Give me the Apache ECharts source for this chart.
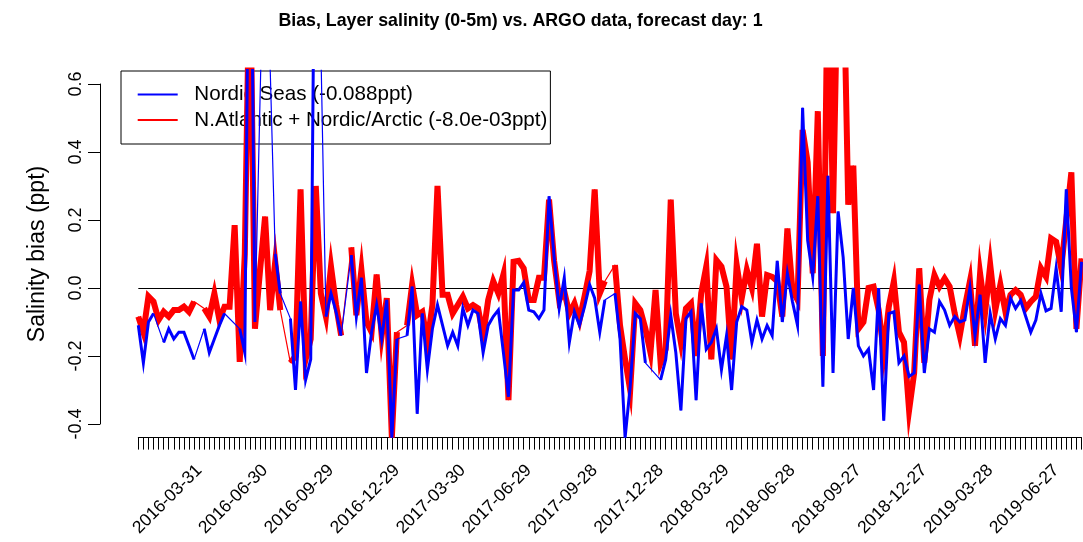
<!DOCTYPE html>
<html><head><meta charset="utf-8">
<script src="https://cdn.jsdelivr.net/npm/echarts@6/dist/echarts.min.js"></script>
<style>html,body{margin:0;padding:0;background:#fff}#c{width:1083px;height:542px}</style>
</head><body><div id="c"></div>
<script>
// ---- data ----
const startDate = '2016-01-07';   // first weekly sample
const nWeeks = 187;
const tickLabels = ['2016-03-31','2016-06-30','2016-09-29','2016-12-29','2017-03-30','2017-06-29','2017-09-28',
  '2017-12-28','2018-03-29','2018-06-28','2018-09-27','2018-12-27','2019-03-28','2019-06-27'];
const nordicName = 'Nordic Seas (-0.088ppt)';
const natlName = 'N.Atlantic + Nordic/Arctic (-8.0e-03ppt)';
const nordicSeas = [
 -0.11,-0.22,-0.10,-0.075,null,-0.16,-0.12,-0.15,-0.13,-0.13,
 -0.17,-0.21,null,-0.12,-0.19,-0.15,-0.11,-0.075,null,null,
 -0.12,-0.19,1.5,-0.10,null,1.2,null,0.10,-0.016,null,
 -0.09,-0.30,-0.04,-0.27,-0.21,1.5,null,-0.084,-0.016,-0.07,
 -0.14,null,0.097,-0.084,0.03,-0.25,-0.13,-0.05,-0.15,-0.035,
 -0.44,-0.15,null,-0.14,0.004,-0.37,-0.075,-0.24,-0.12,-0.05,
 -0.11,-0.17,-0.13,-0.17,-0.06,-0.11,-0.065,-0.075,-0.19,-0.11,
 -0.084,-0.065,-0.19,-0.32,-0.006,-0.006,0.016,-0.065,-0.07,-0.09,
 -0.065,0.27,0.09,-0.06,0.03,-0.16,-0.07,-0.11,-0.055,0.01,
 -0.03,-0.13,-0.035,null,-0.016,-0.15,-0.44,-0.29,-0.075,-0.09,
 -0.22,null,null,-0.27,-0.21,-0.08,-0.19,-0.36,-0.09,-0.07,
 -0.33,-0.045,-0.18,-0.16,-0.12,-0.24,-0.14,-0.30,-0.10,-0.055,
 -0.065,-0.16,-0.094,-0.15,-0.11,-0.14,0.08,-0.10,0.043,-0.04,
 -0.11,0.53,0.14,0.033,0.27,-0.29,0.33,-0.25,0.225,0.09,
 -0.15,0.0,-0.17,-0.20,-0.18,-0.30,0.0,-0.39,-0.075,-0.07,
 -0.22,-0.20,-0.26,-0.25,0.01,-0.25,-0.12,-0.13,-0.04,-0.065,
 -0.11,-0.084,-0.10,-0.094,0.0,-0.14,-0.02,-0.22,-0.075,-0.15,
 -0.09,-0.11,-0.03,-0.06,-0.037,-0.084,-0.13,-0.094,-0.016,-0.067,
 -0.06,0.058,-0.07,0.29,0.0,-0.13,0.077
];
const natlArctic = [
 -0.084,-0.13,-0.025,-0.04,-0.094,-0.07,-0.084,-0.065,-0.065,-0.055,
 -0.07,-0.04,null,-0.06,-0.084,-0.016,-0.094,-0.055,-0.055,0.185,
 -0.217,0.1,1.0,-0.12,0.05,0.21,-0.065,0.077,-0.065,null,
 -0.22,-0.20,0.29,-0.21,-0.15,0.30,-0.016,-0.084,0.063,-0.05,
 -0.14,null,0.12,-0.08,0.053,-0.10,-0.13,0.04,-0.14,-0.03,
 -0.44,-0.13,null,-0.11,0.01,-0.08,-0.07,-0.16,-0.05,0.30,
 -0.02,-0.02,-0.075,-0.05,-0.025,-0.06,-0.05,-0.06,-0.14,-0.035,
 0.02,-0.016,0.04,-0.33,0.077,0.08,0.058,-0.035,-0.035,0.03,
 0.03,0.26,0.08,-0.035,-0.01,-0.075,-0.045,-0.094,-0.025,0.05,
 0.29,-0.016,0.02,null,0.068,-0.11,-0.21,-0.30,-0.045,-0.065,
 -0.12,-0.19,-0.006,-0.22,-0.18,0.26,-0.075,-0.16,-0.06,-0.045,
 -0.20,-0.016,0.063,-0.21,0.082,0.063,0.004,-0.21,0.068,-0.03,
 0.053,0.0,0.13,-0.084,0.038,0.033,0.02,-0.084,0.175,-0.006,
 -0.035,0.465,0.37,0.043,0.52,-0.20,1.0,0.22,1.0,1.0,
 0.245,0.36,-0.12,-0.10,0.0,0.004,-0.065,-0.19,-0.055,0.02,
 -0.13,-0.16,-0.36,-0.25,0.058,-0.22,-0.035,0.038,0.004,0.028,
 0.004,-0.075,-0.14,-0.055,0.02,-0.17,0.043,-0.07,0.068,-0.065,
 0.01,-0.07,-0.02,-0.006,-0.02,-0.06,-0.04,-0.025,0.058,0.033,
 0.146,0.136,0.058,0.2,0.34,-0.12,0.087
];

// weekly date categories
function weekDates(start, n) {
  const out = [];
  const t0 = Date.parse(start + 'T00:00:00Z');
  for (let i = 0; i < n; i++) out.push(new Date(t0 + i * 7 * 86400000).toISOString().slice(0, 10));
  return out;
}
const dates = weekDates(startDate, nWeeks);

const FONT = '"Liberation Sans", Arial, Helvetica, sans-serif';
const chart = echarts.init(document.getElementById('c'), null, {renderer: 'canvas'});
const plotLeft = 138.3, plotRight = 1.5;

chart.setOption({
  animation: false,
  backgroundColor: '#fff',
  title: {
    text: 'Bias, Layer salinity (0-5m) vs. ARGO data, forecast day: 1',
    left: 520.5, top: 12, padding: 0, textAlign: 'center',
    textStyle: {fontFamily: FONT, fontSize: 17.8, fontWeight: 'bold', color: '#000'}
  },
  legend: {
    orient: 'vertical', left: 121, top: 71,
    padding: [13, 3, 13.5, 15.7], itemWidth: 40, itemHeight: 14, itemGap: 4.5,
    borderColor: '#000', borderWidth: 1, z: 1,
    textStyle: {fontFamily: FONT, fontSize: 20.6, color: '#000', padding: [0, 0, 0, 11.6]},
    data: [{name: nordicName, itemStyle: {opacity: 0}}, {name: natlName, itemStyle: {opacity: 0}}]
  },
  grid: [
    {left: plotLeft, right: plotRight, top: 70.4, bottom: 542 - 437.6},
    {left: plotLeft, right: plotRight, top: 84, bottom: 542 - 424}
  ],
  xAxis: [
    {type: 'category', gridIndex: 0, data: dates, boundaryGap: false,
     axisLine: {show: true, onZero: false, lineStyle: {color: '#000', width: 1}},
     axisTick: {show: true, interval: 0, length: 12, lineStyle: {color: '#000', width: 1}},
     axisLabel: {show: true, interval: (idx, val) => tickLabels.includes(val), rotate: 45, margin: 30,
       fontFamily: FONT, fontSize: 17.5, color: '#000'},
     splitLine: {show: false}},
    {type: 'category', gridIndex: 1, data: dates, boundaryGap: false, show: false}
  ],
  yAxis: [
    {type: 'value', gridIndex: 0, min: -0.44, max: 0.64, show: false, splitLine: {show: false}},
    {type: 'value', gridIndex: 1, min: -0.4, max: 0.6, interval: 0.2, offset: 38.3,
     axisLine: {show: true, onZero: false, lineStyle: {color: '#000', width: 1}},
     axisTick: {show: true, length: 12, lineStyle: {color: '#000', width: 1}},
     axisLabel: {show: true, rotate: 90, margin: 15, fontFamily: FONT, fontSize: 18, color: '#000',
       formatter: v => v.toFixed(1)},
     splitLine: {show: false},
     name: 'Salinity bias (ppt)', nameLocation: 'middle', nameRotate: 90, nameGap: 50.5,
     nameTextStyle: {fontFamily: FONT, fontSize: 23, color: '#000'}}
  ],
  series: [
    {type: 'line', name: 'zero', xAxisIndex: 0, yAxisIndex: 0, data: [], silent: true, z: 1,
     markLine: {silent: true, symbol: 'none', z: 1, label: {show: false},
       lineStyle: {color: '#000', width: 1, type: 'solid'}, data: [{yAxis: 0}]}},
    {type: 'line', name: natlName + ' (gap link)', xAxisIndex: 0, yAxisIndex: 0, data: natlArctic,
     connectNulls: true, showSymbol: false, symbol: 'none', silent: true, z: 2,
     lineStyle: {color: '#ff0000', width: 1.2}, itemStyle: {color: '#ff0000'}},
    {type: 'line', name: natlName, xAxisIndex: 0, yAxisIndex: 0, data: natlArctic,
     connectNulls: false, showSymbol: false, symbol: 'none', silent: true, z: 3,
     lineStyle: {color: '#ff0000', width: 6, join: 'miter'}, itemStyle: {color: '#ff0000'}},
    {type: 'line', name: nordicName + ' (gap link)', xAxisIndex: 0, yAxisIndex: 0, data: nordicSeas,
     connectNulls: true, showSymbol: false, symbol: 'none', silent: true, z: 4,
     lineStyle: {color: '#0000ff', width: 1.2}, itemStyle: {color: '#0000ff'}},
    {type: 'line', name: nordicName, xAxisIndex: 0, yAxisIndex: 0, data: nordicSeas,
     connectNulls: false, showSymbol: false, symbol: 'none', silent: true, z: 5,
     lineStyle: {color: '#0000ff', width: 3, join: 'miter'}, itemStyle: {color: '#0000ff'}}
  ]
});
</script></body></html>
